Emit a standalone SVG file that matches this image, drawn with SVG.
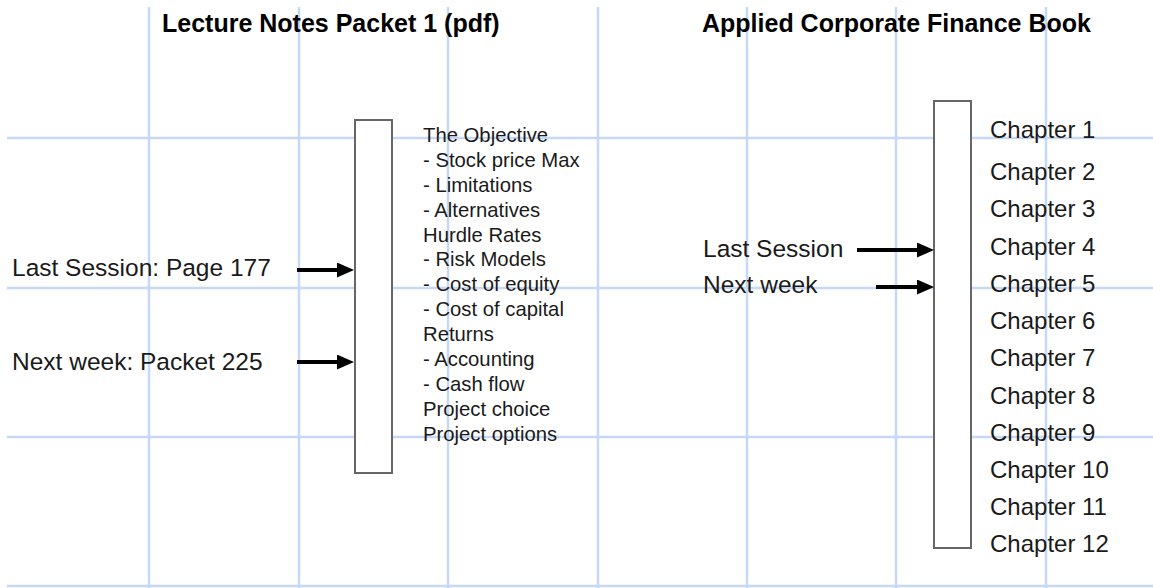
<svg xmlns="http://www.w3.org/2000/svg" width="1153" height="588" viewBox="0 0 1153 588">
<style>
.grid line{stroke:#c5d8f6;stroke-width:2.5}
.bar{fill:#fff;stroke:#666;stroke-width:2}
text{font-family:"Liberation Sans",Arial,Helvetica,sans-serif;fill:#1a1a1a}
.title{font-size:25px;font-weight:bold;fill:#000}
.lbl{font-size:24.5px}
.list{font-size:20.3px}
.ch{font-size:24px}
.arrow{stroke:#000;stroke-width:4;fill:none;marker-end:url(#head)}
</style>
<defs>
<marker id="head" markerUnits="userSpaceOnUse" markerWidth="17" markerHeight="15" refX="6" refY="7.5" orient="auto">
<path d="M0,0 L17,7.5 L0,15 z" fill="#000"/>
</marker>
</defs>
<rect width="1153" height="588" fill="#fff"/>
<g class="grid" id="grid">
<line x1="149" y1="7" x2="149" y2="588"/>
<line x1="299" y1="7" x2="299" y2="588"/>
<line x1="448" y1="7" x2="448" y2="588"/>
<line x1="598" y1="7" x2="598" y2="588"/>
<line x1="747" y1="7" x2="747" y2="588"/>
<line x1="896" y1="7" x2="896" y2="588"/>
<line x1="1046" y1="7" x2="1046" y2="588"/>
<line x1="7" y1="138" x2="1153" y2="138"/>
<line x1="7" y1="288" x2="1153" y2="288"/>
<line x1="7" y1="437" x2="1153" y2="437"/>
<line x1="7" y1="586" x2="1153" y2="586"/>
</g>
<g id="title-packet"><text class="title" x="162" y="32">Lecture Notes Packet 1 (pdf)</text></g>
<g id="title-book"><text class="title" x="702" y="32">Applied Corporate Finance Book</text></g>
<g id="packet-bar"><rect class="bar" x="355" y="120" width="37" height="353"/></g>
<g id="book-bar"><rect class="bar" x="934" y="101" width="37" height="447"/></g>
<g id="packet-contents">
<text class="list" x="423">
<tspan x="423" y="142">The Objective</tspan>
<tspan x="423" y="167">- Stock price Max</tspan>
<tspan x="423" y="192">- Limitations</tspan>
<tspan x="423" y="217">- Alternatives</tspan>
<tspan x="423" y="242">Hurdle Rates</tspan>
<tspan x="423" y="266">- Risk Models</tspan>
<tspan x="423" y="291">- Cost of equity</tspan>
<tspan x="423" y="316">- Cost of capital</tspan>
<tspan x="423" y="341">Returns</tspan>
<tspan x="423" y="366">- Accounting</tspan>
<tspan x="423" y="391">- Cash flow</tspan>
<tspan x="423" y="416">Project choice</tspan>
<tspan x="423" y="441">Project options</tspan>
</text>
</g>
<g id="label-last-session-packet"><text class="lbl" x="12" y="276">Last Session: Page 177</text></g>
<g id="label-next-week-packet"><text class="lbl" x="12" y="370">Next week: Packet 225</text></g>
<g id="label-last-session-book"><text class="lbl" x="703" y="257">Last Session</text></g>
<g id="label-next-week-book"><text class="lbl" x="703" y="293">Next week</text></g>
<g id="chapters">
<text class="ch" x="990" y="138">Chapter 1</text>
<text class="ch" x="990" y="180">Chapter 2</text>
<text class="ch" x="990" y="217">Chapter 3</text>
<text class="ch" x="990" y="255">Chapter 4</text>
<text class="ch" x="990" y="292">Chapter 5</text>
<text class="ch" x="990" y="329">Chapter 6</text>
<text class="ch" x="990" y="366">Chapter 7</text>
<text class="ch" x="990" y="404">Chapter 8</text>
<text class="ch" x="990" y="441">Chapter 9</text>
<text class="ch" x="990" y="478">Chapter 10</text>
<text class="ch" x="990" y="515">Chapter 11</text>
<text class="ch" x="990" y="552">Chapter 12</text>
</g>
<g id="connectors">
<line class="arrow" x1="297" y1="270" x2="343" y2="270"/>
<line class="arrow" x1="297" y1="362" x2="343" y2="362"/>
<line class="arrow" x1="857" y1="250" x2="923" y2="250"/>
<line class="arrow" x1="876" y1="287" x2="923" y2="287"/>
</g>
</svg>
